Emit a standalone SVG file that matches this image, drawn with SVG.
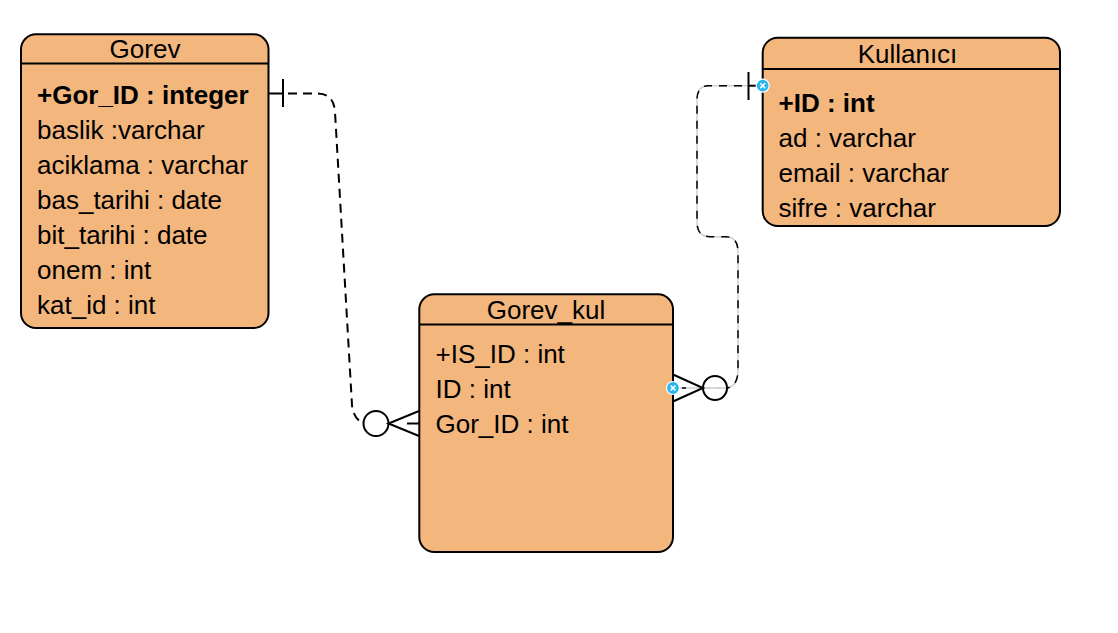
<svg xmlns="http://www.w3.org/2000/svg" width="1118" height="633" viewBox="0 0 1118 633">
<style>
.box{fill:#F3B67C;stroke:#000;stroke-width:2}
.hdr{stroke:#000;stroke-width:2}
.t{font-family:"Liberation Sans",Arial,sans-serif;font-size:26px;fill:#000}
.ttl{text-anchor:middle}
.b{font-weight:bold}
.edge{fill:none;stroke:#000;stroke-width:2;stroke-dasharray:9 6}
.sel{fill:none;stroke:#cfcfcf;stroke-width:1.5}
.edge2{fill:none;stroke:#000;stroke-width:1.5;stroke-dasharray:8 7}
.mk{fill:none;stroke:#000;stroke-width:2}
.mkc{fill:#fff;stroke:#000;stroke-width:2}
.h{fill:#29B6F2;stroke:#fff;stroke-width:1.2}
.hx{stroke:#fff;stroke-width:1.5}
</style>
<rect width="1118" height="633" fill="#fff"/>
<g id="connectors">
  <g id="edge-gorev-gorevkul">
    <line class="mk" x1="269" y1="93.5" x2="283" y2="93.5"/>
    <line class="mk" x1="283" y1="79" x2="283" y2="107"/>
    <path class="edge" d="M288,93.5 H318 Q334,94 335,112 L352,405 Q353,418 363,423.5"/>
    <line class="mk" x1="407" y1="423.5" x2="419" y2="423.5"/>
    <circle class="mkc" cx="376" cy="423.5" r="12.5"/>
    <path class="mk" d="M419,411 L388.5,423.5 L419,436"/>
  </g>
  <g id="edge-kullanici-gorevkul">
    <path class="sel" d="M748.5,85.7 H708 Q697,86 697,100 V222 Q697,236.7 710,236.7 H726 Q738,237 738,252 V370 Q738,386 727,388 H673"/>
    <path class="edge2" d="M742,85.7 H708 Q697,86 697,100 V222 Q697,236.7 710,236.7 H726 Q738,237 738,252 V370 Q738,386 727,388"/>
    <line class="mk" x1="748.5" y1="85.7" x2="763" y2="85.7"/>
    <line class="mk" x1="748.5" y1="72" x2="748.5" y2="100"/>
    <line x1="673" y1="388" x2="686" y2="388" stroke="#000" stroke-width="1.5" stroke-dasharray="5 4"/>
    <circle cx="715" cy="388" r="12" fill="none" stroke="#000" stroke-width="2"/>
    <line x1="705" y1="388" x2="725" y2="388" stroke="#cfcfcf" stroke-width="1.5" stroke-dasharray="6 4"/>
    <path class="mk" d="M673,374.5 L703,388 L673,401.5"/>
  </g>
</g>
<g id="gorev">
  <rect class="box" x="21" y="34.3" width="247.5" height="293.7" rx="15"/>
  <line class="hdr" x1="21" y1="63.5" x2="268.5" y2="63.5"/>
  <text class="t ttl" x="145" y="58.3">Gorev</text>
  <text class="t b" x="37" y="104">+Gor_ID : integer</text>
  <text class="t" x="37" y="139">baslik :varchar</text>
  <text class="t" x="37" y="174">aciklama : varchar</text>
  <text class="t" x="37" y="209">bas_tarihi : date</text>
  <text class="t" x="37" y="244">bit_tarihi : date</text>
  <text class="t" x="37" y="279">onem : int</text>
  <text class="t" x="37" y="314">kat_id : int</text>
</g>
<g id="kullanici">
  <rect class="box" x="762.7" y="37.7" width="297.3" height="188.3" rx="15"/>
  <line class="hdr" x1="762.7" y1="69" x2="1060" y2="69"/>
  <text class="t ttl" x="907.5" y="62.7">Kullanıcı</text>
  <text class="t b" x="778.5" y="111.7">+ID : int</text>
  <text class="t" x="778.5" y="146.7">ad : varchar</text>
  <text class="t" x="778.5" y="181.7">email : varchar</text>
  <text class="t" x="778.5" y="216.7">sifre : varchar</text>
</g>
<g id="gorev_kul">
  <rect class="box" x="419.3" y="294.3" width="253.7" height="257.7" rx="15"/>
  <line class="hdr" x1="419.3" y1="324.5" x2="673" y2="324.5"/>
  <text class="t ttl" x="546" y="318.5">Gorev_kul</text>
  <text class="t" x="435.5" y="363.3">+IS_ID : int</text>
  <text class="t" x="435.5" y="398.3">ID : int</text>
  <text class="t" x="435.5" y="433.3">Gor_ID : int</text>
</g>
<g id="handles">
  <circle class="h" cx="762.7" cy="85.7" r="6.5"/>
  <path class="hx" d="M760.3,83.3 L765.1,88.1 M765.1,83.3 L760.3,88.1"/>
  <circle class="h" cx="673" cy="388" r="6.5"/>
  <path class="hx" d="M670.6,385.6 L675.4,390.4 M675.4,385.6 L670.6,390.4"/>
</g>
</svg>
